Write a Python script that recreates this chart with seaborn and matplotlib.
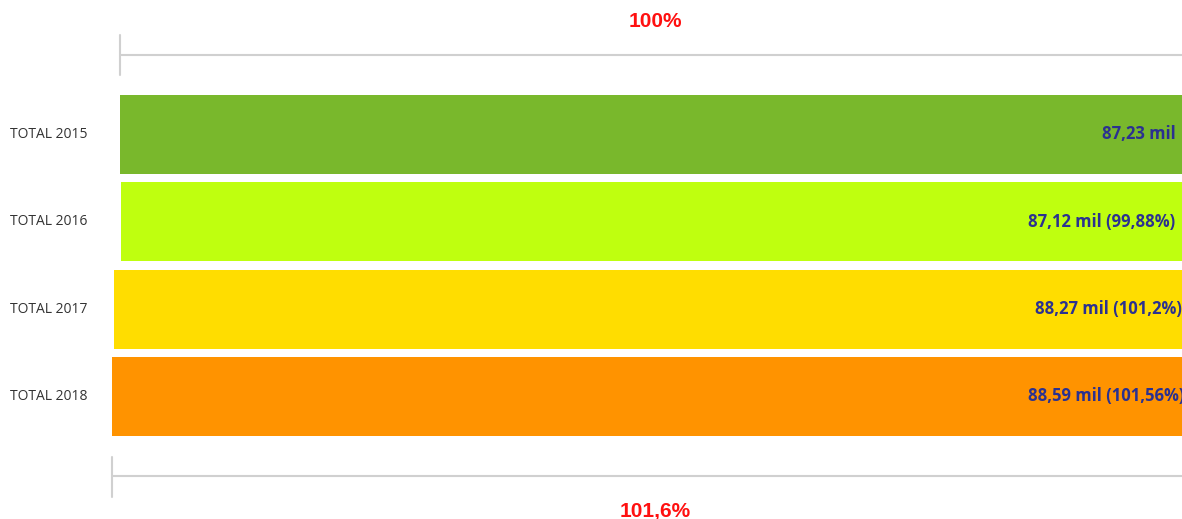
import matplotlib
matplotlib.use("Agg")
import matplotlib.pyplot as plt
import seaborn as sns
import pandas as pd

categories = ["TOTAL 2015", "TOTAL 2016", "TOTAL 2017", "TOTAL 2018"]
values = [87.23, 87.12, 88.27, 88.59]
value_labels = ["87,23 mil", "87,12 mil (99,88%)", "88,27 mil (101,2%)", "88,59 mil (101,56%)"]
colors = ["#79B82C", "#BFFF0F", "#FFDD00", "#FF9300"]
top_label = "100%"
bottom_label = "101,6%"

sns.set_theme(style="white")
plt.rcParams['font.family'] = ['Open Sans', 'DejaVu Sans']

df = pd.DataFrame({"cat": categories, "val": values})

W, H = 1182, 519
fig = plt.figure(figsize=(W / 100, H / 100), dpi=100)
ax = fig.add_axes([0, 0, 1, 1])

sns.barplot(data=df, x="val", y="cat", hue="cat", palette=colors, legend=False,
            width=0.905, ax=ax, saturation=1, edgecolor="none")

pxu = 1076 / max(values)  # pixels per data unit
cx = 650
xmax = (W - cx) / pxu
ax.set_xlim(-cx / pxu, xmax)

# centre bars (funnel); the view clips them at the right edge
for p in ax.patches:
    w = p.get_width()
    p.set_x(-w / 2)
    p.set_width(xmax + 5 - (-w / 2))

ypx = 87.33
y0 = 134.5
ax.set_ylim((H - y0) / ypx, -y0 / ypx)
ax.axis("off")

def xd(px):
    return (px - cx) / pxu

def yd(py):
    return (py - y0) / ypx

# category labels
for i, c in enumerate(categories):
    ax.text(xd(10), i, c, ha="left", va="center", fontsize=10, color="#333333")

# value labels
for i, (v, lab) in enumerate(zip(values, value_labels)):
    ax.text(v / 2 - 4 / pxu, i, lab, ha="right", va="center", fontsize=12,
            color="#2B3190", fontweight="bold")

grey = "#D0D0D0"
# top bracket
l0 = -values[0] / 2
ax.plot([l0, xd(W + 10)], [yd(55), yd(55)], color=grey, lw=1.5)
ax.plot([l0, l0], [yd(35), yd(75)], color=grey, lw=1.5)
# bottom bracket
l3 = -values[-1] / 2
ax.plot([l3, xd(W + 10)], [yd(476), yd(476)], color=grey, lw=1.5)
ax.plot([l3, l3], [yd(457), yd(497)], color=grey, lw=1.5)

ax.text(xd(655), yd(22), top_label, ha="center", va="center", fontsize=15,
        color="#FF1010", fontweight="bold", family=["Liberation Sans", "DejaVu Sans"])
ax.text(xd(655), yd(511), bottom_label, ha="center", va="center", fontsize=15,
        color="#FF1010", fontweight="bold", family=["Liberation Sans", "DejaVu Sans"])

fig.savefig("out.png", dpi=100)
